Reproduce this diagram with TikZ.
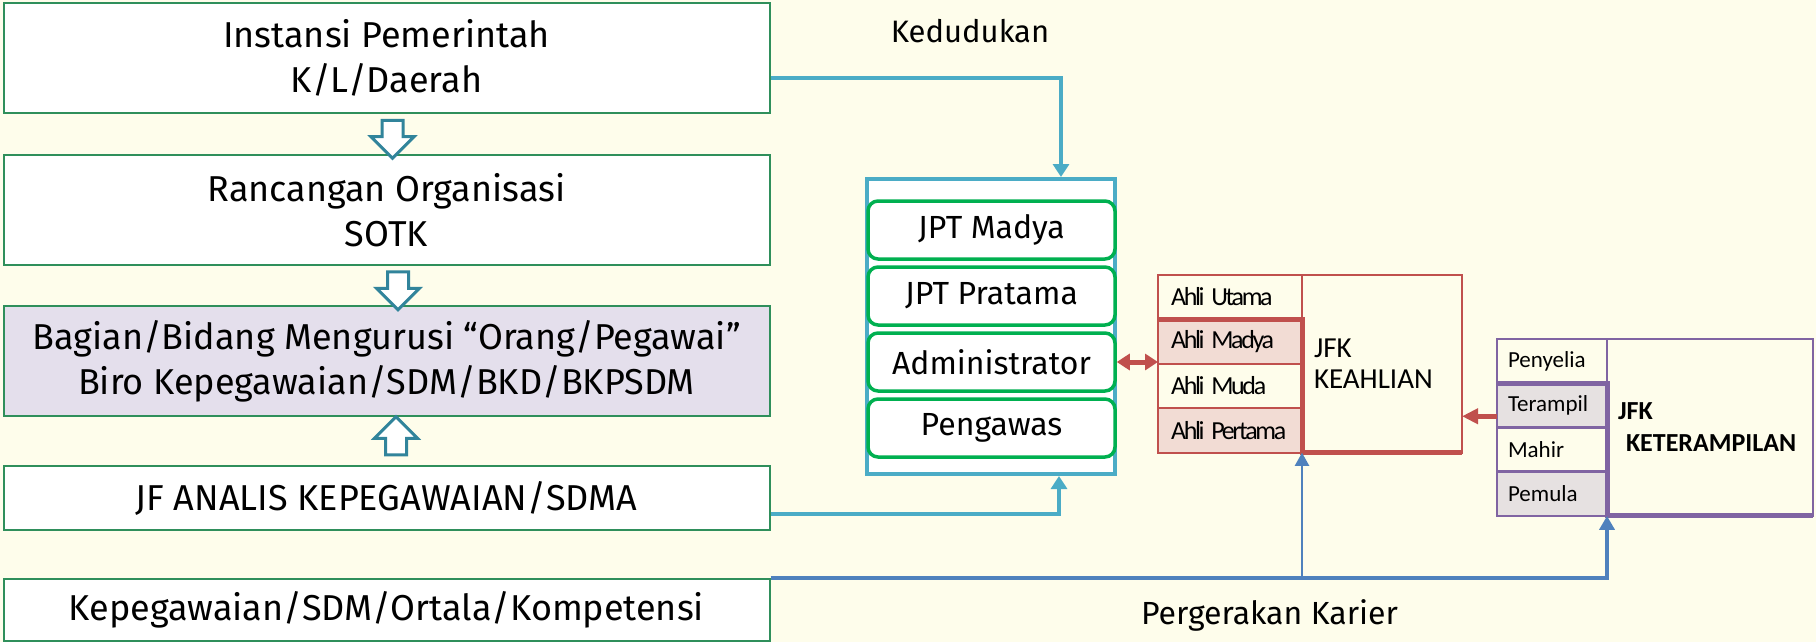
\documentclass[tikz,border=0pt]{standalone}
\usepackage{fontspec}
\setmainfont{Fira Sans}
\newfontfamily\calibri{Carlito}
\newfontfamily\ahlifont[LetterSpace=-9]{Carlito}
\usetikzlibrary{shapes.arrows, arrows.meta, positioning, calc}

\definecolor{bgcream}{HTML}{FEFDEB}
\definecolor{boxgreen}{HTML}{2F8F5B}
\definecolor{boxlilac}{HTML}{E4DFEC}
\definecolor{arrowteal}{HTML}{31849B}
\definecolor{posblue}{HTML}{4BACC6}
\definecolor{jptgreen}{HTML}{00B050}
\definecolor{ahlired}{HTML}{C0504D}
\definecolor{ahlipink}{HTML}{F2DCD4}
\definecolor{terampilpurple}{HTML}{8064A2}
\definecolor{terampilgrey}{HTML}{E6E1E1}
\definecolor{careerblue}{HTML}{4F81BD}

\tikzset{
    box_left/.style={rectangle, draw=boxgreen, line width=2pt, fill=white, minimum width=766pt, inner sep=0pt, align=center, font=\fontsize{36}{45}\selectfont},
    box_container/.style={rectangle, draw=posblue, line width=4pt, fill=white, inner sep=0pt},
    box_jpt/.style={rectangle, rounded corners=10pt, draw=jptgreen, line width=3.5pt, fill=white, minimum width=247pt, minimum height=58pt, inner sep=0pt, font=\fontsize{32}{38}\selectfont},
    row_ahli/.style={rectangle, draw=ahlired, line width=2pt, outer sep=0pt, minimum height=44.5pt, text width=118pt, inner xsep=13pt, inner ysep=0pt, align=left, font=\ahlifont\fontsize{26}{30}\selectfont},
    row_terampil/.style={rectangle, draw=terampilpurple, line width=2.5pt, outer sep=0pt, minimum height=44.25pt, text width=88pt, inner xsep=11pt, inner ysep=0pt, align=left, font=\calibri\fontsize{23}{27}\selectfont},
    box_jfk/.style={rectangle, line width=2pt, outer sep=0pt, inner xsep=12pt, inner ysep=0pt, align=left},
    arrow_hollow/.style={single arrow, draw=arrowteal, line width=3pt, fill=white, minimum height=38pt, minimum width=40pt, inner xsep=0pt, inner ysep=9pt, single arrow head extend=11pt},
    line_kedudukan/.style={draw=posblue, line width=4.5pt, -{Triangle[width=16pt,length=13pt]}},
    line_ahli/.style={draw=ahlired, line width=5pt},
    line_karier/.style={draw=careerblue, line width=4pt, -{Triangle[width=15pt,length=14pt]}}
}

\begin{document}
\begin{tikzpicture}[x=1pt, y=-1pt]
    % Background
    \fill[bgcream] (0,0) rectangle (1816,642);
    \useasboundingbox (0,0) rectangle (1816,642);

    % Left column
    \node[box_left, minimum height=110pt] (inst) at (386.5,58) {Instansi Pemerintah\\K/L/Daerah};
    \node[box_left, minimum height=110pt] (sotk) at (386.5,210) {Rancangan Organisasi\\SOTK};
    \node[box_left, minimum height=110pt, fill=boxlilac] (bagian) at (386.5,361) {Bagian/Bidang Mengurusi “Orang/Pegawai”\\Biro Kepegawaian/SDM/BKD/BKPSDM};
    \node[box_left, minimum height=64pt] (jfak) at (386.5,498) {JF ANALIS KEPEGAWAIAN/SDMA};
    \node[box_left, minimum height=62pt] (kepeg) at (386.5,609.5) {Kepegawaian/SDM/Ortala/Kompetensi};

    % Hollow arrows
    \node[arrow_hollow, rotate=-90] (arr_inst) at ($(inst.south)!0.5!(sotk.north)+(6,0)$) {};
    \node[arrow_hollow, rotate=-90] (arr_sotk) at ($(sotk.south)!0.5!(bagian.north)+(11.5,0)$) {};
    \node[arrow_hollow, rotate=90] (arr_jfak) at ($(jfak.north)!0.5!(bagian.south)+(9.5,0)$) {};

    % Jabatan
    \node[box_container, minimum width=248pt, minimum height=295pt] (jab) at (991,326.5) {};
    \node[box_jpt] (jptmadya) at (991.5,230) {JPT Madya};
    \node[box_jpt, below=4.5pt of jptmadya] (jptpratama) {JPT Pratama};
    \node[box_jpt, below=4.5pt of jptpratama] (admin) {Administrator};
    \node[box_jpt, below=4.5pt of admin] (pengawas) {Pengawas};

    % JFK Keahlian
    \node[row_ahli] (ahliutama) at (1230,297) {Ahli\hspace{-2pt} Utama};
    \node[row_ahli, fill=ahlipink, below=0pt of ahliutama] (ahlimadya) {Ahli\hspace{-2pt} Madya};
    \node[row_ahli, below=0pt of ahlimadya] (ahlimuda) {Ahli\hspace{-2pt} Muda};
    \node[row_ahli, fill=ahlipink, below=0pt of ahlimuda] (ahlipertama) {Ahli\hspace{-2pt} Pertama};
    \node[box_jfk, draw=ahlired, anchor=north west, minimum height=178pt, text width=136pt, font=\calibri\fontsize{29}{31}\selectfont] (jfkahli) at (ahliutama.north east) {JFK\\KEAHLIAN};
    \draw[line_ahli, line join=miter] (ahlimadya.north west) -- (ahlimadya.north east) -- (ahlipertama.south east) -- (jfkahli.south east);

    % JFK Keterampilan
    \node[row_terampil] (penyelia) at (1552,361) {Penyelia};
    \node[row_terampil, fill=terampilgrey, below=0pt of penyelia] (terampil) {Terampil};
    \node[row_terampil, below=0pt of terampil] (mahir) {Mahir};
    \node[row_terampil, fill=terampilgrey, below=0pt of mahir] (pemula) {Pemula};
    \node[box_jfk, draw=terampilpurple, line width=2.5pt, anchor=north west, minimum height=177pt, text width=184pt, inner xsep=11pt, font=\calibri\bfseries\fontsize{26}{32}\selectfont] (jfkterampil) at (penyelia.north east) {JFK\\\hspace*{8pt}KETERAMPILAN};
    \draw[draw=terampilpurple, line width=5pt, line join=miter] (terampil.north west) -- (terampil.north east) -- (pemula.south east) -- (jfkterampil.south east);

    % Kedudukan
    \draw[line_kedudukan] ([yshift=-20pt]inst.east) -| ([xshift=-56pt]jab.north east);
    \draw[line_kedudukan] ([yshift=-16pt]jfak.east) -| ([xshift=-58pt]jab.south east);
    \node[anchor=base, font=\fontsize{31}{36}\selectfont] (kedudukan) at (970,43) {Kedudukan};

    % Ahli arrows
    \draw[line_ahli, {Triangle[width=16pt,length=13pt]}-{Triangle[width=16pt,length=13pt]}] (admin.east) -- (admin.east -| ahlimadya.west);
    \draw[line_ahli, -{Triangle[width=15pt,length=16pt]}] ([yshift=-11pt]terampil.west) -- ([yshift=-11pt]terampil.west -| jfkahli.east);

    % Pergerakan karier
    \draw[line_karier] (kepeg.north east) -| (jfkterampil.south west);
    \draw[line_karier, line width=2pt, -{Triangle[width=14pt,length=13pt]}] (kepeg.north east -| jfkahli.south west) -- (jfkahli.south west);
    \node[anchor=base, font=\fontsize{32}{36}\selectfont] (karier) at (1269.5,624) {Pergerakan Karier};
\end{tikzpicture}
\end{document}
